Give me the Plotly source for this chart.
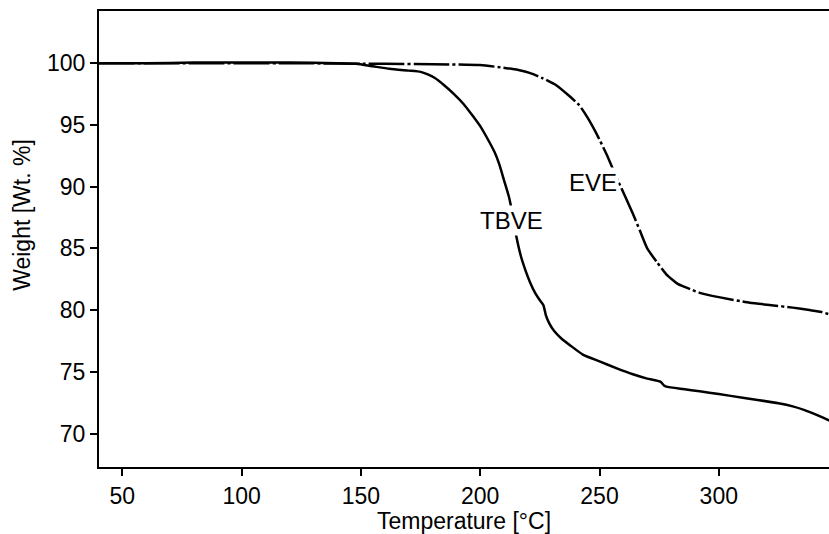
import plotly.graph_objects as go

# TBVE (solid)
tbve_t = [40, 60, 80, 100, 120, 140, 148, 155, 162, 170, 175, 178, 181, 185, 189, 193, 197, 200, 203, 206,
          208, 210, 212, 213.5, 215, 217, 219, 221, 223, 225, 226.5, 227.5, 229, 231, 234, 238, 243, 250,
          257, 264, 270, 275.5, 277, 278, 285, 292, 300, 310, 317, 325, 331, 336, 340, 343, 346.5]
tbve_w = [100.0, 100.0, 100.05, 100.05, 100.05, 100.0, 99.95, 99.75, 99.55, 99.4, 99.3, 99.1, 98.8, 98.2,
          97.5, 96.7, 95.7, 94.9, 93.9, 92.8, 91.8, 90.5, 89.2, 87.8, 86.1, 84.4, 83.2, 82.2, 81.4, 80.8,
          80.4, 79.6, 78.9, 78.3, 77.7, 77.1, 76.4, 75.85, 75.3, 74.8, 74.45, 74.2, 73.9, 73.8, 73.6, 73.42,
          73.2, 72.9, 72.7, 72.45, 72.2, 71.9, 71.6, 71.35, 71.05]

# EVE (dash-dot)
eve_t = [40, 80, 120, 160, 180, 200, 211, 216, 221, 226, 232, 237, 241.5, 245, 249, 253, 257, 261, 264,
         267, 270, 274, 278, 283, 288, 292, 300, 313, 322, 331, 338, 343, 346.5]
eve_w = [100.0, 100.0, 100.0, 99.95, 99.92, 99.85, 99.6, 99.45, 99.2, 98.8, 98.2, 97.4, 96.6, 95.6, 94.2,
         92.6, 90.8, 89.1, 87.8, 86.4, 85.0, 83.9, 82.9, 82.1, 81.7, 81.4, 81.05, 80.6, 80.4, 80.2, 80.0,
         79.85, 79.65]

x_ticks = [50, 100, 150, 200, 250, 300]
y_ticks = [70, 75, 80, 85, 90, 95, 100]

FONT = "Liberation Sans, Arial, sans-serif"

fig = go.Figure()
fig.add_trace(go.Scatter(x=tbve_t, y=tbve_w, mode="lines", name="TBVE",
                         line=dict(color="black", width=2.5, shape="spline", smoothing=0.5)))
fig.add_trace(go.Scatter(x=eve_t, y=eve_w, mode="lines", name="EVE",
                         line=dict(color="black", width=2.5, dash="36px,3px,3px,3px",
                                   shape="spline", smoothing=0.5)))

fig.add_annotation(x=213.3, y=87.28, text="TBVE", showarrow=False, bgcolor="white",
                   font=dict(family=FONT, size=24, color="black"))
fig.add_annotation(x=247.1, y=90.3, text="EVE", showarrow=False, bgcolor="white",
                   font=dict(family=FONT, size=24, color="black"))
# y-axis title (placed as annotation to match its off-centre position)
fig.add_annotation(xref="paper", yref="paper", x=0, y=0.553, xshift=-77, xanchor="center",
                   yanchor="middle", text="Weight [Wt. %]", textangle=-90, showarrow=False,
                   font=dict(family=FONT, size=23, color="black"))

fig.update_layout(
    width=829, height=534,
    margin=dict(l=99, r=0, t=11, b=67),
    paper_bgcolor="white", plot_bgcolor="white",
    showlegend=False,
    font=dict(family=FONT, size=23, color="black"),
    xaxis=dict(range=[40.2, 346.2], tickvals=x_ticks, showgrid=False, zeroline=False,
               showline=True, linewidth=2, linecolor="black", mirror=True,
               ticks="outside", ticklen=7, tickwidth=2, tickcolor="black",
               title=dict(text="Temperature [°C]", font=dict(size=23), standoff=4)),
    yaxis=dict(range=[67.29, 104.23], tickvals=y_ticks, showgrid=False, zeroline=False,
               showline=True, linewidth=2, linecolor="black", mirror=False,
               ticks="outside", ticklen=7, tickwidth=2, tickcolor="black"),
)

fig.write_html("out.html")
